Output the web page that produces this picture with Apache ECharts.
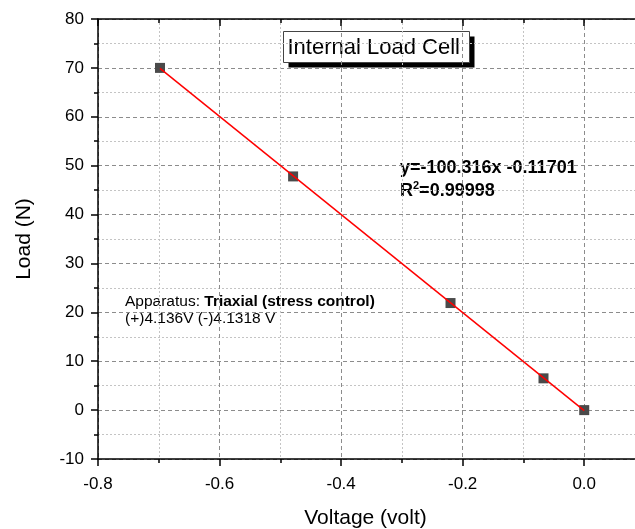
<!DOCTYPE html>
<html>
<head>
<meta charset="utf-8">
<script src="https://cdn.jsdelivr.net/npm/echarts@6/dist/echarts.min.js"></script>
<style>
  html, body { margin: 0; padding: 0; background: #fff; }
  #chart { width: 635px; height: 529px; }
</style>
</head>
<body>
<div id="chart"></div>
<script>
// Calibration points: applied voltage vs. measured load
const voltage = [-0.698, -0.479, -0.220, -0.067, 0.0];
const load = [70.0, 47.8, 21.9, 6.5, 0.0];

// Linear fit reported on the chart
const fitSlope = -100.316;
const fitIntercept = -0.11701;
const fitRange = [-0.698, 0.0];

const xTicks = { min: -0.8, max: 0.1, interval: 0.2 };
const yTicks = { min: -10, max: 80, interval: 10 };

const chart = echarts.init(document.getElementById('chart'), null, { renderer: 'canvas' });

const fitLine = fitRange.map(x => [x, fitSlope * x + fitIntercept]);
const points = voltage.map((v, i) => [v, load[i]]);

const font = 'Arial, "Liberation Sans", sans-serif';

chart.setOption({
  animation: false,
  backgroundColor: '#fff',
  // plot frame runs past the right edge of the canvas
  grid: { left: 98, top: 19, width: 547, height: 440, containLabel: false, outerBoundsMode: 'none' },
  xAxis: [{
    type: 'value',
    min: xTicks.min, max: xTicks.max, interval: xTicks.interval,
    name: 'Voltage (volt)',
    nameLocation: 'middle',
    nameGap: 49,
    nameTextStyle: { fontFamily: font, fontSize: 21, color: '#000', padding: [0, 12, 0, 0] },
    axisLine: { onZero: false, lineStyle: { color: '#000', width: 1.5 } },
    axisTick: { show: true, inside: false, length: 7, lineStyle: { color: '#000', width: 1.5 } },
    minorTick: { show: true, splitNumber: 2, length: 4, lineStyle: { color: '#000', width: 1.5 } },
    axisLabel: { fontFamily: font, fontSize: 17, color: '#000', margin: 17,
      showMaxLabel: false, formatter: v => v.toFixed(1) },
    splitLine: { show: true, lineStyle: { color: '#8c8c8c', type: [4, 3], width: 1 } },
    minorSplitLine: { show: true, lineStyle: { color: '#c4c4c4', type: [2, 2], width: 1 } }
  }, {
    type: 'value',
    position: 'top',
    min: xTicks.min, max: xTicks.max, interval: xTicks.interval,
    axisLine: { onZero: false, lineStyle: { color: '#000', width: 1.5 } },
    axisTick: { show: true, inside: true, length: 7, lineStyle: { color: '#000', width: 1.5 } },
    minorTick: { show: true, splitNumber: 2, length: 4, lineStyle: { color: '#000', width: 1.5 } },
    axisLabel: { show: false },
    splitLine: { show: false }
  }],
  yAxis: {
    type: 'value',
    min: yTicks.min, max: yTicks.max, interval: yTicks.interval,
    name: 'Load (N)',
    nameLocation: 'middle',
    nameGap: 63,
    nameRotate: 90,
    nameTextStyle: { fontFamily: font, fontSize: 21, color: '#000' },
    axisLine: { onZero: false, lineStyle: { color: '#000', width: 1.5 } },
    axisTick: { show: true, inside: false, length: 7, lineStyle: { color: '#000', width: 1.5 } },
    minorTick: { show: true, splitNumber: 2, length: 4, lineStyle: { color: '#000', width: 1.5 } },
    axisLabel: { fontFamily: font, fontSize: 17, color: '#000', margin: 14 },
    splitLine: { show: true, lineStyle: { color: '#8c8c8c', type: [4, 3], width: 1 } },
    minorSplitLine: { show: true, lineStyle: { color: '#c4c4c4', type: [2, 2], width: 1 } }
  },
  series: [{
    type: 'scatter',
    data: points,
    symbol: 'rect',
    symbolSize: 10,
    itemStyle: { color: '#4a4a4a', opacity: 1 },
    z: 3
  }, {
    type: 'line',
    data: fitLine,
    symbol: 'none',
    lineStyle: { color: '#ff0000', width: 1.5 },
    z: 4
  }],
  graphic: [{
    type: 'group',
    left: 283, top: 31,
    children: [
      { type: 'rect', shape: { x: 5, y: 5, width: 186, height: 31 }, style: { fill: '#000' } },
      { type: 'rect', shape: { x: 0, y: 0, width: 186, height: 31 }, style: { fill: '#fff', stroke: '#444', lineWidth: 1 } },
      { type: 'text', x: 4, y: 16, style: { text: 'Internal Load Cell', fontFamily: font, fontSize: 22, fill: '#000', verticalAlign: 'middle' } }
    ]
  }, {
    type: 'text',
    left: 400, top: 159,
    style: {
      text: 'y=-100.316x -0.11701',
      fontFamily: font, fontSize: 18, fontWeight: 'bold', fill: '#000'
    }
  }, {
    type: 'text',
    left: 400, top: 180,
    style: {
      text: '{b|R}{s|2}{b|=0.99998}',
      rich: {
        b: { fontFamily: font, fontSize: 18, fontWeight: 'bold', color: '#000', verticalAlign: 'bottom' },
        s: { fontFamily: font, fontSize: 11, fontWeight: 'bold', color: '#000', verticalAlign: 'top', padding: [0, 0, 9, 0] }
      }
    }
  }, {
    type: 'text',
    left: 125, top: 294,
    style: {
      text: '{n|Apparatus: }{bd|Triaxial (stress control)}\n{n|(+)4.136V (-)4.1318 V}',
      rich: {
        n: { fontFamily: font, fontSize: 15.5, color: '#000', lineHeight: 17 },
        bd: { fontFamily: font, fontSize: 15.5, fontWeight: 'bold', color: '#000', lineHeight: 17 }
      }
    }
  }]
});
</script>
</body>
</html>
